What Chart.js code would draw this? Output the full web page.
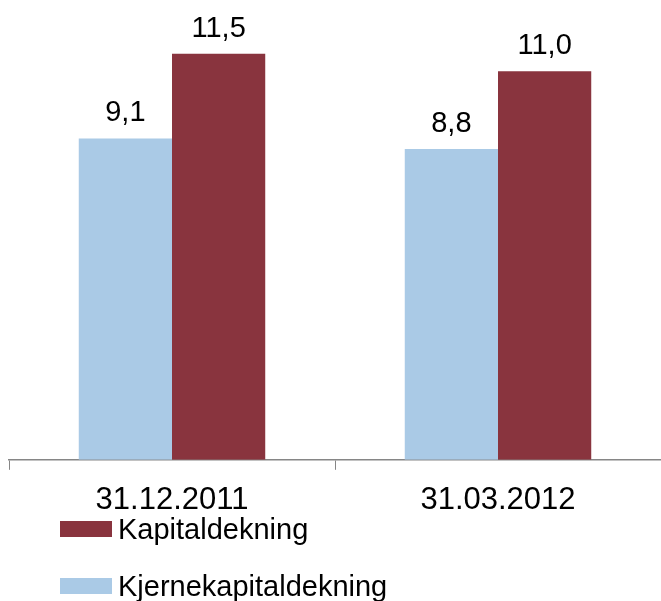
<!DOCTYPE html>
<html>
<head>
<meta charset="utf-8">
<script src="https://cdn.jsdelivr.net/npm/chart.js@4/dist/chart.umd.min.js"></script>
<style>
    html, body { margin: 0; padding: 0; background: #fff; overflow: hidden; }
    #wrap { position: relative; width: 661px; height: 601px; }
    #legend { position: absolute; left: 60px; top: 0; font-family: "Liberation Sans", Arial, sans-serif; font-size: 29px; color: #000; }
    .item { position: absolute; left: 0; white-space: nowrap; }
    .swatch { position: absolute; left: 0; width: 52px; height: 16px; }
    .label { position: absolute; left: 58px; line-height: 29px; }
</style>
</head>
<body>
<div id="wrap">
    <canvas id="kapitalChart" width="661" height="601"></canvas>
    <div id="legend"></div>
</div>
<script>
// Data
const categories = ['31.12.2011', '31.03.2012'];
const kjernekapital = [9.1, 8.8];
const kapital = [11.5, 11.0];
const seriesNames = ['Kjernekapitaldekning', 'Kapitaldekning'];

const BLUE = 'rgb(170, 202, 230)';
const RED = 'rgb(137, 52, 62)';
const FONT = '"Liberation Sans", Arial, sans-serif';

/**
 * Draws the value above every bar, with a decimal comma.
 */
const valueLabels = {
    id: 'valueLabels',
    afterDatasetsDraw(chart) {
        const ctx = chart.ctx;
        ctx.save();
        ctx.font = '29px ' + FONT;
        ctx.fillStyle = '#000';
        ctx.textAlign = 'center';
        ctx.textBaseline = 'alphabetic';
        chart.data.datasets.forEach((ds, i) => {
            chart.getDatasetMeta(i).data.forEach((bar, j) => {
                const txt = ds.data[j].toFixed(1).replace('.', ',');
                ctx.fillText(txt, bar.x, bar.y - 17);
            });
        });
        ctx.restore();
    }
};

new Chart(document.getElementById('kapitalChart'), {
    type: 'bar',
    data: {
        labels: categories,
        datasets: [
            { label: seriesNames[0], data: kjernekapital, backgroundColor: BLUE },
            { label: seriesNames[1], data: kapital, backgroundColor: RED }
        ]
    },
    options: {
        responsive: false,
        animation: false,
        layout: { padding: { left: 9, right: -2, top: 36, bottom: 70 } },
        datasets: {
            bar: { categoryPercentage: 0.572, barPercentage: 1.0 }
        },
        plugins: {
            legend: { display: false },
            tooltip: { enabled: false }
        },
        scales: {
            x: {
                offset: true,
                grid: {
                    offset: true,
                    drawOnChartArea: false,
                    drawTicks: true,
                    tickLength: 10,
                    color: '#868686'
                },
                border: { display: true, color: '#868686', width: 1.5 },
                ticks: {
                    color: '#000',
                    padding: 12,
                    maxRotation: 0,
                    font: { family: FONT, size: 31 }
                }
            },
            y: {
                display: false,
                min: 0,
                max: 12
            }
        }
    },
    plugins: [valueLabels]
});

// Legend, listed top to bottom with the red series first
const legendEl = document.getElementById('legend');
const legendItems = [
    { name: seriesNames[1], color: RED, top: 521 },
    { name: seriesNames[0], color: BLUE, top: 578 }
];
legendItems.forEach(it => {
    const div = document.createElement('div');
    div.className = 'item';
    div.style.top = it.top + 'px';
    div.innerHTML = '<div class="swatch" style="background:' + it.color + '"></div>' +
        '<div class="label" style="top:-6px">' + it.name + '</div>';
    legendEl.appendChild(div);
});
</script>
</body>
</html>
